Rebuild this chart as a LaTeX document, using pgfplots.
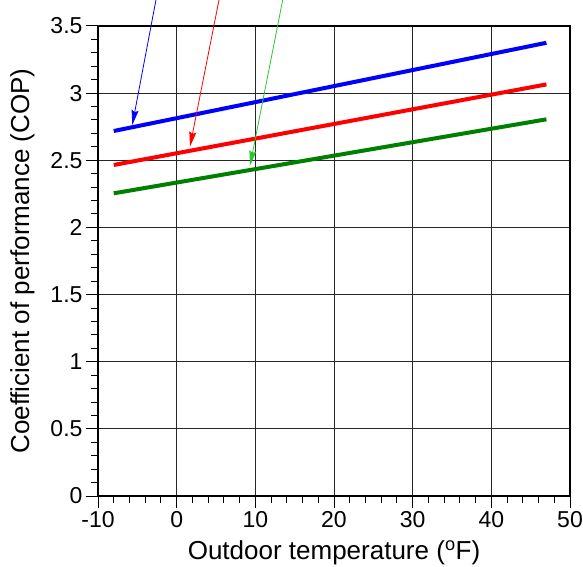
\documentclass[border=0pt]{standalone}
\usepackage{pgfplots}
\pgfplotsset{compat=1.18}
\usepackage{fontspec}
\setmainfont{Liberation Sans}
\usetikzlibrary{arrows.meta}
\definecolor{dgreen}{RGB}{0,128,0}
\definecolor{agreen}{RGB}{40,200,40}
\begin{document}
\begin{tikzpicture}
\begin{axis}[
  name=ax,
  scale only axis,
  width=472pt, height=470pt,
  xmin=-10, xmax=50, ymin=0, ymax=3.5,
  xtick={-10,0,...,50},
  ytick={0,0.5,...,3.5},
  minor x tick num=4, minor y tick num=4,
  tick align=outside,
  xtick pos=left, ytick pos=left,
  major tick length=12pt, minor tick length=7pt,
  tick style={black, line width=1pt},
  grid=major,
  major grid style={black!85, line width=0.9pt},
  axis line style={line width=2.2pt},
  /pgf/number format/assume math mode=true,
  ticklabel style={font=\fontsize{23}{23}\selectfont},
  label style={font=\fontsize{26}{26}\selectfont},
  xlabel={Outdoor temperature (\textsuperscript{o}F)},
  ylabel={Coefficient of performance (COP)},
  xlabel style={yshift=-6pt},
  ylabel style={yshift=9pt},
  clip=false,
]
\addplot[blue, line width=4pt] coordinates {(-8,2.718) (47,3.375)};
\addplot[red, line width=4pt] coordinates {(-8,2.465) (47,3.065)};
\addplot[dgreen, line width=4pt] coordinates {(-8,2.254) (47,2.805)};
\addplot[blue, line width=0.8pt, -{Stealth[length=15pt,width=7pt,inset=2pt]}] coordinates {(-2.45,3.75) (-5.64,2.763)};
\addplot[red, line width=0.8pt, -{Stealth[length=15pt,width=7pt,inset=2pt]}] coordinates {(5.57,3.75) (1.69,2.601)};
\addplot[agreen, line width=0.8pt, -{Stealth[length=15pt,width=7pt,inset=2pt]}] coordinates {(13.67,3.75) (9.32,2.460)};
\end{axis}
\pgfresetboundingbox
\path[use as bounding box] ([shift={(-98pt,-70.5pt)}]ax.south west) rectangle ([shift={(13pt,26pt)}]ax.north east);
\end{tikzpicture}
\end{document}
